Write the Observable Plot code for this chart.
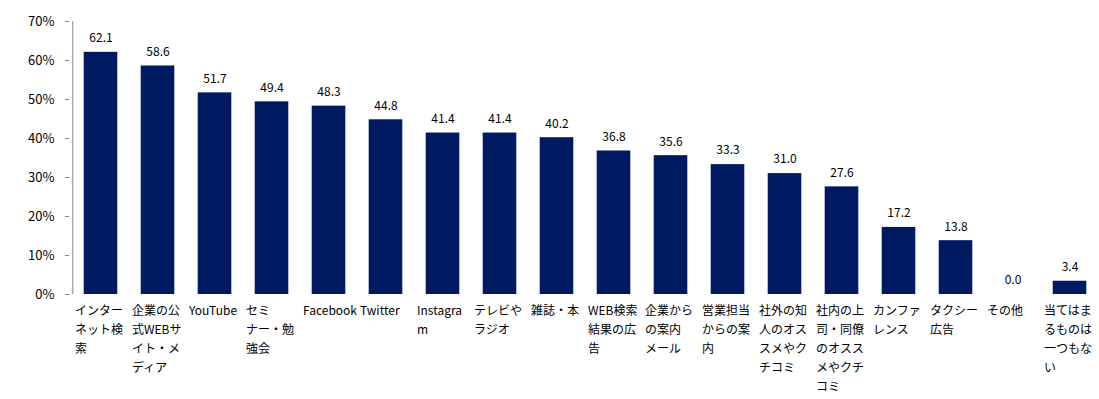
<!DOCTYPE html>
<html>
<head>
<meta charset="utf-8">
<script src="https://cdn.jsdelivr.net/npm/d3@7"></script>
<script src="https://cdn.jsdelivr.net/npm/@observablehq/plot@0.6"></script>
<style>
  html, body { margin: 0; padding: 0; background: #fff; }
  #chart svg { display: block; }
</style>
</head>
<body>
<div id="chart"></div>
<script>
const categories = [
  "インター\nネット検\n索",
  "企業の公\n式WEBサ\nイト・メ\nディア",
  "YouTube",
  "セミ\nナー・勉\n強会",
  "Facebook",
  "Twitter",
  "Instagra\nm",
  "テレビや\nラジオ",
  "雑誌・本",
  "WEB検索\n結果の広\n告",
  "企業から\nの案内\nメール",
  "営業担当\nからの案\n内",
  "社外の知\n人のオス\nスメやク\nチコミ",
  "社内の上\n司・同僚\nのオスス\nメやクチ\nコミ",
  "カンファ\nレンス",
  "タクシー\n広告",
  "その他",
  "当てはま\nるものは\n一つもな\nい"
];
const values = [62.1, 58.6, 51.7, 49.4, 48.3, 44.8, 41.4, 41.4, 40.2, 36.8, 35.6, 33.3, 31.0, 27.6, 17.2, 13.8, 0.0, 3.4];
const yTicks = [0, 10, 20, 30, 40, 50, 60, 70];

const data = categories.map((c, i) => ({category: c, value: values[i]}));
const font = "'Noto Sans CJK JP', 'Noto Sans', sans-serif";

const chart = Plot.plot({
  width: 1099,
  height: 399,
  marginLeft: 69,
  marginRight: 0,
  marginTop: 21,
  marginBottom: 105,
  style: {fontFamily: font, fontSize: "12px", color: "#000", background: "#fff"},
  x: {domain: categories, padding: 0, range: [68.3, 1100.7], axis: null},
  y: {domain: [0, 70], axis: null},
  marks: [
    Plot.barY(data, {x: "category", y: "value", fill: "#001A62", insetLeft: 11.7, insetRight: 11.7}),
    Plot.text(data, {x: "category", y: "value", text: d => d.value.toFixed(1), dy: -14, fontSize: 12, fill: "#000"}),
    Plot.text(data, {x: "category", y: 0, text: "category", lineAnchor: "top", textAnchor: "start", dx: -26, dy: 7, lineHeight: 1.58, fontSize: 12, fill: "#000"}),
    Plot.axisY({ticks: yTicks, tickFormat: d => d + "%", tickSize: 4, tickPadding: 11, stroke: "#888", fontSize: 13, color: "#000", label: null}),
    Plot.ruleX([0], {x: () => categories[0], dx: -28.2, y1: 0, y2: 70, stroke: "#888"})
  ]
});
document.getElementById("chart").append(chart);
</script>
</body>
</html>
